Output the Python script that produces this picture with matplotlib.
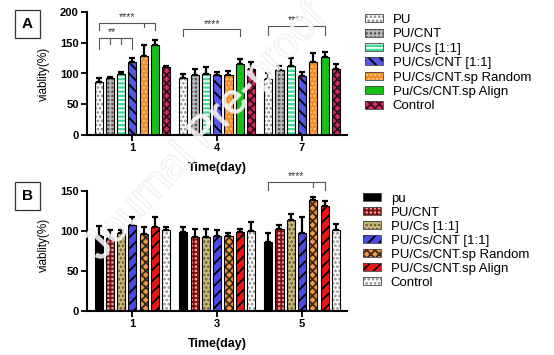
import numpy as np
import matplotlib
matplotlib.use("Agg")
import matplotlib.pyplot as plt
import matplotlib.patches as mpatches
import matplotlib.patheffects as pe

plt.rcParams['font.family'] = ['Liberation Sans', 'DejaVu Sans']
plt.rcParams['hatch.linewidth'] = 1.3

# ---- panel A data ----
daysA = ['1', '4', '7']
namesA = ['PU', 'PU/CNT', 'PU/Cs [1:1]', 'PU/Cs/CNT [1:1]',
          'PU/Cs/CNT.sp Random', 'Pu/Cs/CNT.sp Align', 'Control']
meanA = [[86, 92, 91],
         [93, 97, 106],
         [99, 99, 112],
         [119, 98, 96],
         [128, 97, 118],
         [146, 115, 127],
         [110, 107, 108]]
errA = [[6, 7, 10],
        [2, 10, 6],
        [3, 11, 13],
        [7, 5, 6],
        [18, 7, 16],
        [8, 9, 8],
        [2, 12, 7]]

# ---- panel B data ----
daysB = ['1', '3', '5']
namesB = ['pu', 'PU/CNT', 'PU/Cs [1:1]', 'PU/Cs/CNT [1:1]',
          'PU/Cs/CNT.sp Random', 'PU/Cs/CNT.sp Align', 'Control']
meanB = [[94, 99, 86],
         [91, 93, 103],
         [98, 93, 114],
         [107, 94, 98],
         [96, 94, 139],
         [105, 99, 131],
         [101, 100, 101]]
errB = [[12, 6, 11],
        [10, 10, 5],
        [3, 10, 7],
        [11, 7, 19],
        [9, 4, 4],
        [13, 4, 7],
        [4, 11, 8]]

# face colour, hatch colour, hatch
styleA = [('white', '#8a8a8a', '....'),
          ('#555555', '#b8b8b8', '++++'),
          ('#3ddc97', 'white', '----'),
          ('#5555e6', 'black', '\\\\\\'),
          ('#f28a22', '#ffc27a', '....'),
          ('#16c016', None, None),
          ('#d42a6c', '#3a0a1a', 'xxxx')]
styleB = [('black', None, None),
          ('#f2a0a0', '#7a1010', '++++'),
          ('#c9b97a', '#6a5a2a', '....'),
          ('#4a4ae6', 'black', '///'),
          ('#f09a48', '#3a2814', 'xxxx'),
          ('#ee1414', 'black', '///'),
          ('white', '#8a8a8a', '....')]

step = 0.133
width = 0.095


def draw_panel(ax, days, names, means, errs, styles, ymax):
    x = np.arange(len(days))
    handles = []
    for i in range(len(names)):
        pos = x + (i - 3) * step
        fc, hc, h = styles[i]
        if h:
            ax.bar(pos, means[i], width, color=fc, edgecolor=hc, hatch=h, linewidth=0, zorder=2)
        else:
            ax.bar(pos, means[i], width, color=fc, linewidth=0, zorder=2)
        ax.bar(pos, means[i], width, facecolor='none', edgecolor='black', linewidth=0.8, zorder=3)
        ax.errorbar(pos, means[i], yerr=[np.zeros(len(days)), errs[i]], fmt='none',
                    ecolor='black', elinewidth=1.6, capsize=2.2, capthick=1.6, zorder=4)
        base = mpatches.Patch(facecolor=fc, edgecolor=hc if h else fc, hatch=h, linewidth=0)
        edge = mpatches.Patch(facecolor='none', edgecolor='#444444', linewidth=0.6)
        handles.append((base, edge))
    ax.set_xlim(-0.535, 2.53)
    ax.set_ylim(0, ymax)
    ax.set_yticks(np.arange(0, ymax + 1, 50))
    ax.set_xticks(x)
    ax.set_xticklabels(days)
    for sp in ['top', 'right']:
        ax.spines[sp].set_visible(False)
    for sp in ['left', 'bottom']:
        ax.spines[sp].set_linewidth(1.5)
    ax.tick_params(axis='both', width=1.3, length=4, labelsize=8, pad=2)
    for lab in ax.get_xticklabels() + ax.get_yticklabels():
        lab.set_fontweight('bold')
    ax.set_xlabel('Time(day)', fontsize=9, fontweight='bold', labelpad=6)
    ax.set_ylabel('viablity(%)', fontsize=8.5)
    return handles


def bracket(ax, x1, x2, y, drop, ticks=(), stars='****', sx=None):
    ax.plot([x1, x1, x2, x2], [y - drop, y, y, y - drop], color='#555555', lw=0.8, clip_on=False)
    for t in ticks:
        ax.plot([t, t], [y, y - drop * 0.6], color='#555555', lw=0.8, clip_on=False)
    if sx is None:
        sx = (x1 + x2) / 2
    ax.text(sx, y + 1, stars, ha='center', va='bottom', fontsize=7.5, color='#333333')


fig = plt.figure(figsize=(5.54, 3.55), dpi=100)
axA = fig.add_axes([87 / 554, 1 - 135 / 355, 260 / 554, 123 / 355])
axB = fig.add_axes([87 / 554, 1 - 311 / 355, 260 / 554, 120 / 355])

hA = draw_panel(axA, daysA, namesA, meanA, errA, styleA, 200)
hB = draw_panel(axB, daysB, namesB, meanB, errB, styleB, 150)
axA.yaxis.set_label_coords(-0.142, 0.5)
axB.yaxis.set_label_coords(-0.142, 0.55)

def bx(g, i):
    return g + (i - 3) * step

# panel A significance
bracket(axA, bx(0, 0), bx(0, 3), 158, 18, ticks=[bx(0, 1), bx(0, 2)], stars='**',
        sx=bx(0, 1.2))
bracket(axA, bx(0, 0), bx(0, 5), 182, 11, ticks=[bx(0, 4)])
bracket(axA, bx(1, 0), bx(1, 5), 172, 11)
bracket(axA, bx(2, 0), bx(2, 5), 177, 14)
# panel B significance
bracket(axB, bx(2, 0), bx(2, 5), 161, 10, ticks=[bx(2, 4)])

legA = axA.legend(hA, namesA, loc='upper left', bbox_to_anchor=(365 / 554, 1 - 14 / 355),
                  bbox_transform=fig.transFigure, frameon=False, fontsize=9.5,
                  handlelength=1.4, handleheight=0.55, handletextpad=0.7,
                  labelspacing=0.18, borderpad=0, borderaxespad=0)
legB = axB.legend(hB, namesB, loc='upper left', bbox_to_anchor=(363 / 554, 1 - 193 / 355),
                  bbox_transform=fig.transFigure, frameon=False, fontsize=9.5,
                  handlelength=1.4, handleheight=0.55, handletextpad=0.7,
                  labelspacing=0.15, borderpad=0, borderaxespad=0)

for lbl, ytop in [('A', 13), ('B', 185)]:
    fig.text(27.5 / 554, 1 - (ytop + 11) / 355, lbl, ha='center', va='center',
             fontsize=11, fontweight='bold',
             bbox=dict(boxstyle='square,pad=0.45', fc='white', ec='#333333', lw=0.9))

# watermark
fig.text(100 / 554, 1 - 262 / 355, 'Journal Pre-proof', fontsize=31, color='white', alpha=0.6,
         rotation=47, rotation_mode='anchor', ha='left', va='baseline', zorder=10,
         path_effects=[pe.withStroke(linewidth=1.0, foreground='#e2e2e2')])

fig.savefig('out.png', dpi=100)
